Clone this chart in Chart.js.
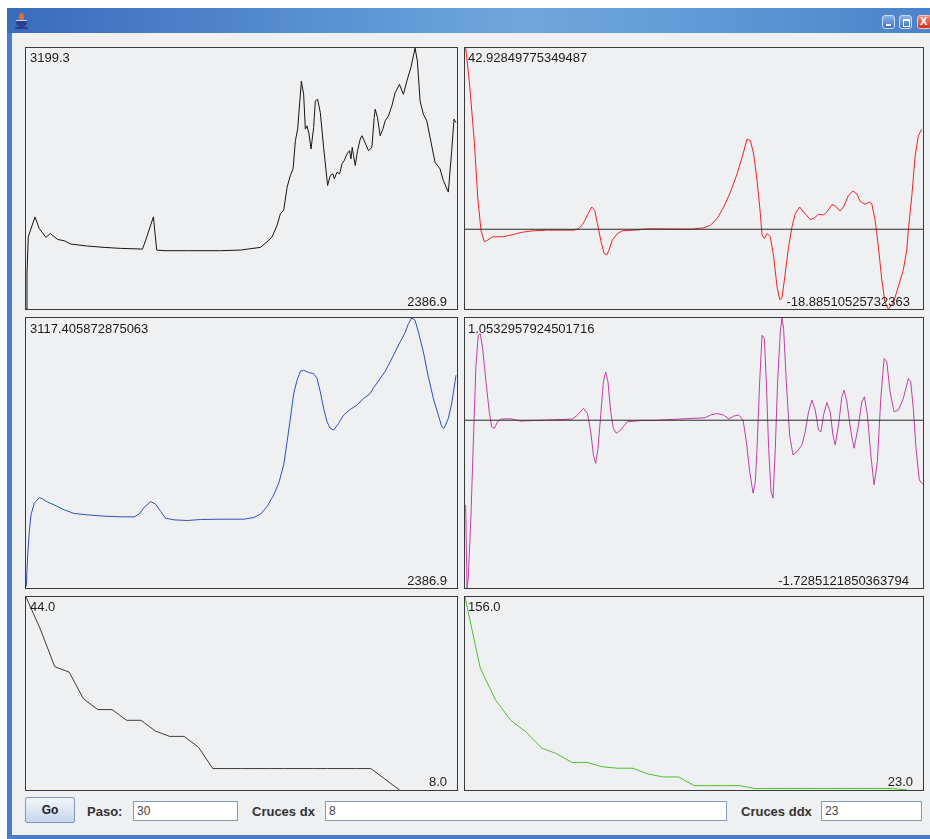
<!DOCTYPE html>
<html>
<head>
<meta charset="utf-8">
<script src="https://cdn.jsdelivr.net/npm/chart.js@4.4.1/dist/chart.umd.min.js"></script>
<style>
  body { margin: 0; width: 930px; height: 839px; overflow: hidden; background: #fff; position: relative;
         font-family: "Liberation Sans", Arial, sans-serif; }
  .frame { position: absolute; left: 7px; top: 8px; width: 940px; height: 831px; background: #4a7ec9; }
  .titlebar { position: absolute; left: 0; top: 0; right: 0; height: 25px;
              background: linear-gradient(to right, #3a6bbd 0%, #5a92d2 35%, #70a8dc 55%, #6099d5 75%, #4a80c9 100%); }
  .content { position: absolute; left: 5px; top: 25px; right: 0; bottom: 4px; background: #eef0f1; }
  .panel { position: absolute; box-sizing: border-box; border: 1px solid #3a3a3a; background: #eff0f2; }
  .panel canvas { display: block; }
  .lbl { position: absolute; font-size: 13px; line-height: 13px; color: #1c1c1c; white-space: nowrap; }
  .tbtn { position: absolute; top: 15px; width: 13px; height: 14px; border-radius: 3px; box-sizing: border-box;
          border: 1px solid #c9dcf3; background: linear-gradient(#8fb4e6, #3f72c4); }
  .tbtn.close { background: linear-gradient(#f08a7a, #c8321e); border-color: #f3c4bb; }
  .go { position: absolute; left: 25px; top: 797px; width: 50px; height: 26px; box-sizing: border-box;
        border: 1px solid #8198bd; border-radius: 2px; background: linear-gradient(#f3f6fb, #c6d6ec);
        font-weight: bold; font-size: 12px; line-height: 24px; text-align: center; color: #222; }
  .clbl { position: absolute; top: 805px; font-weight: bold; font-size: 13px; line-height: 14px; color: #333; }
  .field { position: absolute; top: 801px; height: 20px; box-sizing: border-box; border: 1px solid #7f9db9;
           background: #fff; font-size: 12px; line-height: 18px; padding-left: 3px; color: #444; }
</style>
</head>
<body>
<div class="frame">
  <div class="titlebar"></div>
  <div class="content"></div>
</div>
<!-- java cup icon -->
<div style="position:absolute;left:19px;top:13px;width:5px;height:7px;border-radius:50% 50% 40% 40%;background:#e0703a;"></div>
<div style="position:absolute;left:16px;top:20px;width:11px;height:6px;border-radius:0 0 5px 5px;background:#2b3f8f;border-top:1px solid #c8d6f0;"></div>
<div style="position:absolute;left:15px;top:27px;width:13px;height:2px;border-radius:1px;background:#2b3f8f;"></div>

<div class="tbtn" style="left:882px;"><div style="position:absolute;left:3px;top:8px;width:5px;height:2px;background:#fff;"></div></div>
<div class="tbtn" style="left:899px;"><div style="position:absolute;left:3px;top:3px;width:5px;height:5px;border:1px solid #fff;border-top-width:2px;"></div></div>
<div class="tbtn close" style="left:917px;width:15px;"><div style="position:absolute;left:2px;top:-1px;color:#fff;font-weight:bold;font-size:11px;">X</div></div>

<div class="panel" style="left:25px;top:47px;width:433px;height:263px;"><canvas id="c1" width="431" height="261"></canvas></div>
<div class="panel" style="left:464px;top:47px;width:460px;height:263px;"><canvas id="c2" width="458" height="261"></canvas></div>
<div class="panel" style="left:25px;top:317px;width:433px;height:272px;"><canvas id="c3" width="431" height="270"></canvas></div>
<div class="panel" style="left:464px;top:317px;width:460px;height:272px;"><canvas id="c4" width="458" height="270"></canvas></div>
<div class="panel" style="left:25px;top:596px;width:433px;height:195px;"><canvas id="c5" width="431" height="193"></canvas></div>
<div class="panel" style="left:464px;top:596px;width:460px;height:195px;"><canvas id="c6" width="458" height="193"></canvas></div>

<div class="lbl" style="left:30px;top:51px;">3199.3</div>
<div class="lbl" style="right:483px;top:295px;">2386.9</div>
<div class="lbl" style="left:468px;top:51px;">42.92849775349487</div>
<div class="lbl" style="right:20px;top:295px;">-18.88510525732363</div>
<div class="lbl" style="left:30px;top:322px;">3117.405872875063</div>
<div class="lbl" style="right:483px;top:574px;">2386.9</div>
<div class="lbl" style="left:468px;top:322px;">1.0532957924501716</div>
<div class="lbl" style="right:21px;top:574px;">-1.7285121850363794</div>
<div class="lbl" style="left:30px;top:600px;">44.0</div>
<div class="lbl" style="right:483px;top:775px;">8.0</div>
<div class="lbl" style="left:468px;top:600px;">156.0</div>
<div class="lbl" style="right:17px;top:775px;">23.0</div>

<div class="go">Go</div>
<div class="clbl" style="left:87px;">Paso:</div>
<div class="field" style="left:133px;width:105px;">30</div>
<div class="clbl" style="left:252px;">Cruces dx</div>
<div class="field" style="left:325px;width:402px;">8</div>
<div class="clbl" style="left:741px;">Cruces ddx</div>
<div class="field" style="left:821px;width:101px;">23</div>

<script>
// espectro original
const rawX = [0, 1, 2.3, 9, 13.3, 20, 24.3, 31.7, 38.3, 45,
  61.7, 78.3, 95, 116.7, 120, 127.7, 131, 138.3, 161.7, 195,
  215, 235, 241.7, 246.7, 251.7, 255, 258.3, 261.7, 265, 267.7,
  270, 272.3, 276, 278.3, 280, 281.7, 283.7, 285.7, 288.3, 290,
  292.3, 295, 298.3, 302.3, 305, 307.7, 309, 311.7, 314.3, 316.7,
  319, 321.7, 324.3, 325.7, 327, 328.3, 330, 332.3, 335, 336.7,
  339, 343.3, 346.7, 349, 350, 352.3, 355, 357.7, 360, 363.3,
  366.7, 370, 374.3, 378.3, 381.7, 385.7, 390, 392.3, 395, 398.3,
  401.7, 405, 410, 415, 418.3, 423.3, 426.7, 429, 431];
const rawY = [2386.9, 2498.2, 2611.7, 2673.5, 2637.4, 2609.6, 2622.0, 2603.4, 2599.3, 2589.0,
  2582.8, 2578.7, 2575.6, 2573.5, 2601.3, 2673.5, 2570.4, 2568.4, 2568.4, 2568.4,
  2570.4, 2578.7, 2596.2, 2611.7, 2647.7, 2683.8, 2694.1, 2766.3, 2802.4, 2823.0,
  2910.6, 2946.7, 3096.2, 3055.0, 2946.7, 2957.0, 2931.3, 2884.9, 2951.9, 3034.4,
  3039.5, 2998.3, 2890.0, 2771.5, 2802.4, 2807.5, 2792.1, 2812.7, 2807.5, 2838.5,
  2848.8, 2869.4, 2879.7, 2853.9, 2890.0, 2864.3, 2833.3, 2879.7, 2915.8, 2926.1,
  2910.6, 2879.7, 2890.0, 2982.8, 3008.6, 2982.8, 2926.1, 2946.7, 2972.5, 2988.0,
  3018.9, 3060.1, 3085.9, 3055.0, 3096.2, 3137.5, 3199.3, 3158.1, 3034.4, 2993.1,
  2972.5, 2921.0, 2843.6, 2823.0, 2786.9, 2750.8, 2879.7, 2977.7, 2967.3];

// primera derivada
const dxX = [0.7, 4.3, 9.3, 12.7, 16, 19.3, 22.7, 27.7, 37.7, 46,
  56, 67.7, 82.7, 109.3, 114.3, 119.3, 122.7, 127, 130, 132.7,
  136, 139.3, 142, 144.3, 147.7, 152.7, 157.7, 169.3, 182.7, 227.7,
  239.3, 246, 252.7, 259.3, 266, 272.7, 277.7, 282.7, 286, 289.3,
  292.7, 296, 297.7, 300, 302.7, 306, 309.3, 312.7, 315.3, 317.7,
  321, 324.3, 327.7, 331, 335.3, 339.3, 346, 349.3, 354.3, 359.3,
  362.7, 367.7, 371, 376, 379.3, 384.3, 388.7, 392.7, 396, 401,
  405.3, 407.7, 411, 414.3, 417.7, 421, 424.3, 429.3, 434.3, 439.3,
  442.7, 444.3, 447.7, 451, 454.3, 457.7];
const dxY = [42.92849775349487, 35.08, 20.97, 7.63, -0.21, -2.96, -2.57, -1.78, -1.78, -1.39,
  -0.76, -0.37, -0.21, -0.21, 0.18, 1.75, 3.32, 5.28, 4.49, 1.36,
  -2.57, -5.70, -6.10, -4.92, -2.57, -1.00, -0.37, -0.21, 0.10, 0.02,
  0.34, 0.96, 2.53, 5.28, 8.81, 13.12, 17.05, 21.36, 20.97, 17.83,
  11.55, 3.71, -1.39, -2.17, -1.00, -1.78, -6.49, -13.55, -16.65, -16.26,
  -10.37, -4.13, 0.57, 3.71, 5.28, 4.10, 2.30, 2.53, 3.55, 3.40,
  4.10, 5.83, 5.51, 4.34, 5.28, 8.03, 9.05, 8.42, 6.61, 5.91,
  6.46, 6.06, 2.14, -4.13, -11.97, -17.46, -18.88510525732363, -17.46, -13.55, -9.62,
  -4.92, -0.21, 7.63, 17.05, 22.15, 23.71];

// espectro suavizado
const smoothX = [0.3, 1.7, 3.3, 5, 8.3, 13.3, 16.7, 21.7, 28.3, 38.3,
  48.3, 61.7, 78.3, 95, 108.3, 113.3, 118.3, 125, 130, 135,
  140, 148.3, 161.7, 175, 195, 218.3, 228.3, 235, 241.7, 248.3,
  253.3, 258.3, 261.7, 265, 268.3, 271.7, 275, 278.3, 283.3, 288.3,
  291.7, 295, 298.3, 301.7, 305, 308.3, 313.3, 318.3, 325, 331.7,
  338.3, 345, 348.3, 355, 360, 365, 370, 375, 380, 383.3,
  386.7, 390, 393.3, 398.3, 403.3, 408.3, 413.3, 416.7, 419, 423.3,
  426.7, 430, 431];
const smoothY = [2391.4, 2476.9, 2539.8, 2584.8, 2616.3, 2631.6, 2628.0, 2619.0, 2611.8, 2598.3,
  2588.4, 2584.8, 2581.2, 2579.4, 2579.4, 2586.6, 2604.6, 2620.8, 2613.6, 2593.8,
  2575.8, 2571.3, 2569.5, 2572.2, 2573.1, 2573.1, 2577.6, 2586.6, 2607.3, 2638.8,
  2670.3, 2719.8, 2782.7, 2845.7, 2912.7, 2949.2, 2973.4, 2976.1, 2969.8, 2967.1,
  2953.6, 2917.7, 2872.7, 2836.7, 2818.7, 2814.2, 2832.2, 2854.7, 2870.0, 2881.7,
  2899.7, 2912.7, 2928.4, 2953.6, 2973.4, 2998.6, 3025.6, 3052.6, 3077.8, 3102.1,
  3117.405872875063, 3111.1, 3079.6, 3025.6, 2958.1, 2899.7, 2854.7, 2823.2, 2818.7, 2845.7,
  2886.2, 2944.7, 2962.6];

// segunda derivada
const ddxX = [0.7, 2, 3.3, 6, 8.7, 11, 13.3, 15.3, 17.7, 21,
  24.3, 26.7, 29.3, 32.7, 36, 46, 51, 56, 64.3, 107.7,
  112.7, 118.7, 122.7, 126, 128.7, 131, 133.3, 136, 138.7, 141,
  143.3, 146, 148.7, 151.7, 156, 162.7, 177.7, 189.3, 241, 246,
  252.7, 259.3, 264.3, 269.3, 274.3, 278.7, 282, 285.3, 288.7, 291,
  292.7, 295.3, 297.7, 300, 302, 304.3, 306.7, 308.7, 311, 313.3,
  316, 317.7, 319.3, 322, 325.3, 328.7, 332.7, 337.7, 341, 344.3,
  347.7, 351, 354.3, 356.7, 359.3, 362.7, 366, 368.7, 371, 374.3,
  377.7, 380, 382.7, 386.7, 390, 394.3, 397.7, 400.3, 403.3, 406.7,
  410, 413.3, 416.7, 420, 422.7, 426, 430, 434.3, 439.3, 444.3,
  446.7, 449.3, 452, 455.3, 458.7];
const ddxY = [-0.872, -1.7285121850363794, -1.626, -0.975, -0.118, 0.567, 0.875, 0.892, 0.738, 0.396,
  0.087, -0.067, -0.084, -0.015, 0.012, 0.015, 0.002, -0.009, -0.005, 0.012,
  0.053, 0.122, 0.070, -0.118, -0.358, -0.444, -0.289, 0.053, 0.396, 0.498,
  0.396, 0.087, -0.084, -0.135, -0.101, -0.015, -0.002, -0.002, 0.026, 0.053,
  0.070, 0.053, 0.012, 0.043, 0.053, 0.002, -0.221, -0.529, -0.752, -0.632,
  -0.289, 0.396, 0.875, 0.841, 0.396, -0.289, -0.735, -0.803, -0.289, 0.396,
  0.910, 1.0532957924501716, 0.944, 0.396, -0.152, -0.358, -0.324, -0.255, -0.118, 0.087,
  0.207, 0.104, -0.101, -0.118, 0.053, 0.183, 0.087, -0.152, -0.255, -0.050,
  0.242, 0.310, 0.190, -0.118, -0.289, -0.050, 0.190, 0.242, 0.053, -0.358,
  -0.666, -0.427, 0.224, 0.636, 0.601, 0.293, 0.087, 0.104, 0.224, 0.430,
  0.396, 0.122, -0.289, -0.615, -0.660];

// cruces por paso
const crucesDx = [44, 38, 31, 30, 25, 23, 23, 21, 21, 19, 18, 18, 16, 12,
  12, 12, 12, 12, 12, 12, 12, 12, 12, 12, 12, 10, 8];
const crucesDdx = [156, 107, 85, 71, 63, 52, 48, 42, 42, 39, 38, 38, 34, 32, 32,
  26, 26, 26, 26, 24, 24, 24, 24, 24, 24, 24, 24, 24, 24, 23];
const pasos = 30;

function pts(xs, ys) {
  return ys.map((y, i) => ({ x: xs[i], y: y }));
}

function plot(id, data, color, xMax, yMin, yMax, zero) {
  const datasets = [];
  if (zero) {
    datasets.push({ data: [{ x: 0, y: 0 }, { x: xMax, y: 0 }], borderColor: '#2a2a2a', borderWidth: 1, order: 0 });
  }
  datasets.push({ data: data, borderColor: color, borderWidth: 1, order: 1 });
  new Chart(document.getElementById(id).getContext('2d'), {
    type: 'line',
    data: { datasets: datasets },
    options: {
      responsive: false,
      animation: false,
      events: [],
      layout: { padding: 0 },
      scales: {
        x: { type: 'linear', display: false, min: 0, max: xMax },
        y: { display: false, min: yMin, max: yMax }
      },
      plugins: { legend: { display: false }, tooltip: { enabled: false } },
      elements: { point: { radius: 0 }, line: { tension: 0 } }
    }
  });
}

plot('c1', pts(rawX, rawY), '#151515', 432, 2386.9, 3199.3, false);
plot('c2', pts(dxX, dxY), '#f02222', 459, -18.88510525732363, 42.92849775349487, true);
plot('c3', pts(smoothX, smoothY), '#2f4fbf', 432, 2386.9, 3117.405872875063, false);
plot('c4', pts(ddxX, ddxY), '#c23ea6', 459, -1.7285121850363794, 1.0532957924501716, true);
plot('c5', crucesDx.map((v, i) => ({ x: i, y: v })), '#3a3a3a', pasos, 8, 44, false);
plot('c6', crucesDdx.map((v, i) => ({ x: i, y: v })), '#4fbf30', pasos, 23, 156, false);
</script>
</body>
</html>
